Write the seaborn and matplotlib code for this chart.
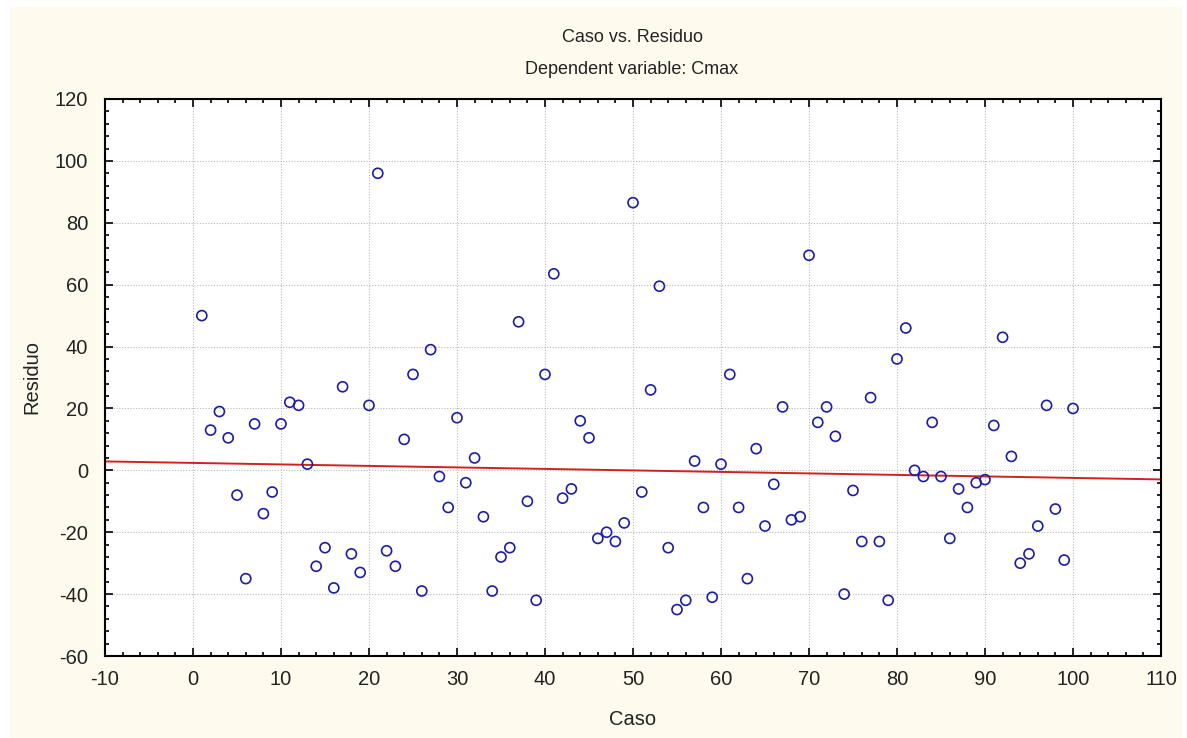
import numpy as np
import pandas as pd
import seaborn as sns
import matplotlib
matplotlib.use("Agg")
import matplotlib.pyplot as plt
from matplotlib.patches import Rectangle
from matplotlib.ticker import MultipleLocator

# ---- data ----
caso = list(range(1, 101))
residuo = [
    50, 13, 19, 10.5, -8, -35, 15, -14, -7, 15,
    22, 21, 2, -31, -25, -38, 27, -27, -33, 21,
    96, -26, -31, 10, 31, -39, 39, -2, -12, 17,
    -4, 4, -15, -39, -28, -25, 48, -10, -42, 31,
    63.5, -9, -6, 16, 10.5, -22, -20, -23, -17, 86.5,
    -7, 26, 59.5, -25, -45, -42, 3, -12, -41, 2,
    31, -12, -35, 7, -18, -4.5, 20.5, -16, -15, 69.5,
    15.5, 20.5, 11, -40, -6.5, -23, 23.5, -23, -42, 36,
    46, 0, -2, 15.5, -2, -22, -6, -12, -4, -3,
    14.5, 43, 4.5, -30, -27, -18, 21, -12.5, -29, 20,
]
title = "Caso vs. Residuo"
subtitle = "Dependent variable: Cmax"
xlabel = "Caso"
ylabel = "Residuo"

df = pd.DataFrame({"Caso": caso, "Residuo": residuo})

sns.set_theme(style="white")
plt.rcParams["font.family"] = ["Liberation Sans", "DejaVu Sans"]
plt.rcParams["axes.unicode_minus"] = False

cream = "#fefbee"
txt = "#222222"
fig = plt.figure(figsize=(11.87, 7.38), dpi=100, facecolor="white")
fig.patches.append(Rectangle((10 / 1187, 0), 1172 / 1187, 731 / 738,
                             transform=fig.transFigure, facecolor=cream,
                             edgecolor="none", zorder=-10))
ax = fig.add_axes([105 / 1187, 1 - 656 / 738, (1161 - 105) / 1187, (656 - 99) / 738])
ax.set_facecolor("white")

ax.set_xlim(-10, 110)
ax.set_ylim(-60, 120)

sns.scatterplot(data=df, x="Caso", y="Residuo", ax=ax, marker="o", s=52,
                facecolors="none", edgecolor="#1c1ca6", linewidth=1.2, zorder=3)
sns.regplot(data=df, x="Caso", y="Residuo", ax=ax, scatter=False, ci=None,
            truncate=False, color="#d42020", line_kws={"linewidth": 1.4, "zorder": 2})

ax.set_xlim(-10, 110)
ax.set_ylim(-60, 120)
ax.xaxis.set_major_locator(MultipleLocator(10))
ax.xaxis.set_minor_locator(MultipleLocator(2))
ax.yaxis.set_major_locator(MultipleLocator(20))
ax.yaxis.set_minor_locator(MultipleLocator(4))
ax.tick_params(which="both", direction="in", top=True, right=True, bottom=True, left=True,
               colors="black", width=1.2)
ax.tick_params(which="major", length=6, labelsize=14.5, labelcolor=txt)
ax.tick_params(axis="x", which="major", pad=10)
ax.tick_params(axis="y", which="major", pad=12)
ax.tick_params(which="minor", length=3)
ax.grid(True, which="major", linestyle=(0, (1, 1.5)), color="#b8b8b8", linewidth=0.8)
for sp in ax.spines.values():
    sp.set_color("black")
    sp.set_linewidth(1.5)

ax.set_xlabel(xlabel, fontsize=14.5, color=txt, labelpad=15)
ax.set_ylabel(ylabel, fontsize=14.5, color=txt, labelpad=10)

fig.text(632 / 1187, 1 - 37 / 738, title, ha="center", va="center", fontsize=13, color=txt)
fig.text(632 / 1187, 1 - 69 / 738, subtitle, ha="center", va="center", fontsize=13, color=txt)

fig.savefig("out.png", dpi=100, facecolor=fig.get_facecolor())
